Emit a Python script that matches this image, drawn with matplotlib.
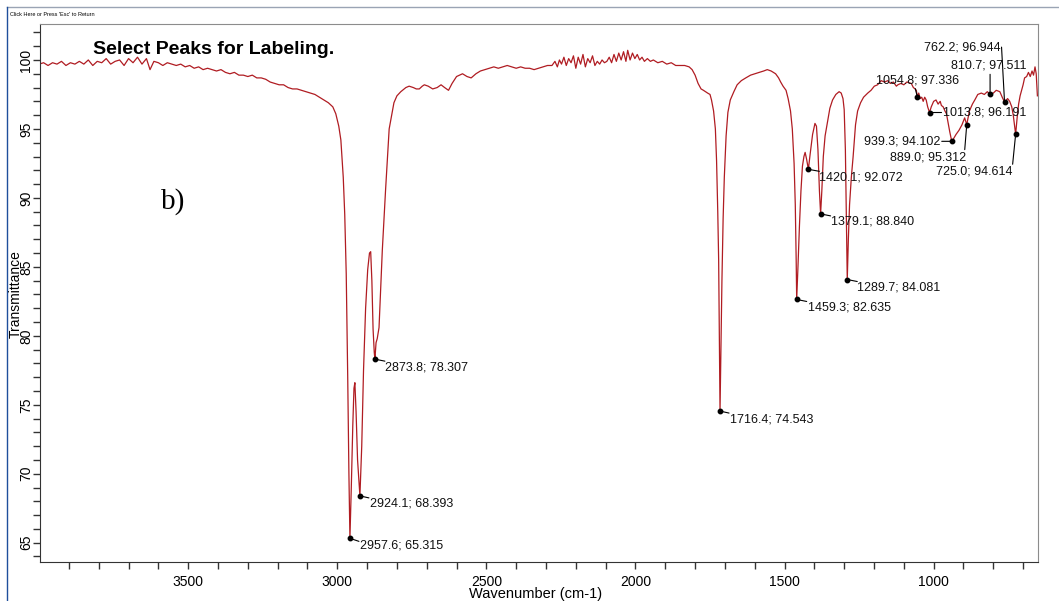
import numpy as np
import matplotlib.pyplot as plt
from matplotlib.lines import Line2D
from matplotlib.ticker import MultipleLocator

plt.rcParams['font.family'] = ['Liberation Sans', 'DejaVu Sans']

# spectrum (wavenumber cm-1, transmittance %)
wavenumber = [
    4000, 3985, 3970, 3955, 3940, 3925, 3910, 3895, 3880, 3865, 3850, 3835, 3820, 3805, 3790,
    3775, 3760, 3745, 3730, 3715, 3700, 3685, 3670, 3655, 3640, 3628, 3615, 3600, 3585, 3570,
    3555, 3540, 3525, 3510, 3495, 3480, 3465, 3450, 3435, 3420, 3405, 3390, 3375, 3360, 3345,
    3330, 3315, 3300, 3285, 3270, 3255, 3240, 3225, 3210, 3195, 3180, 3165, 3150, 3135, 3120,
    3105, 3090, 3075, 3060, 3045, 3030, 3015, 3005, 2995, 2988, 2980, 2975, 2970, 2965, 2961,
    2957.6, 2953, 2948, 2944, 2941, 2937, 2932, 2924.1, 2918, 2912, 2905, 2898, 2892, 2888,
    2884, 2880, 2876, 2873.8, 2870, 2866, 2860, 2849, 2838, 2826, 2810, 2800, 2787, 2770,
    2759, 2745, 2735, 2725, 2715, 2708, 2695, 2680, 2665, 2652, 2640, 2627, 2615, 2600, 2580,
    2565, 2551, 2535, 2520, 2505, 2490, 2475, 2460, 2445, 2430, 2415, 2400, 2385, 2370, 2355,
    2340, 2325, 2310, 2295, 2280, 2270, 2262, 2255, 2248, 2240, 2232, 2224, 2216, 2208, 2200,
    2192, 2184, 2176, 2168, 2160, 2152, 2144, 2136, 2128, 2120, 2112, 2104, 2096, 2088, 2080,
    2072, 2064, 2056, 2048, 2040, 2032, 2026, 2018, 2010, 2002, 1994, 1986, 1978, 1970, 1960,
    1950, 1940, 1925, 1910, 1895, 1880, 1865, 1850, 1835, 1820, 1810, 1800, 1790, 1780, 1772,
    1765, 1758, 1750, 1745, 1738, 1732, 1728, 1724, 1721, 1719, 1716.4, 1713, 1710, 1706, 1702,
    1696, 1690, 1682, 1670, 1659, 1645, 1630, 1614, 1600, 1585, 1570, 1558, 1545, 1530, 1520,
    1513, 1505, 1495, 1488, 1480, 1474, 1468, 1464, 1461, 1459.3, 1455, 1450, 1445, 1440, 1435,
    1431, 1426, 1420.1, 1414, 1406, 1398, 1393, 1388, 1383, 1379.1, 1375, 1370, 1364, 1356, 1348,
    1339, 1328, 1317, 1310, 1304, 1300, 1296, 1293, 1289.7, 1286, 1282, 1276, 1270, 1262, 1255,
    1245, 1235, 1221, 1210, 1199, 1188, 1176, 1165, 1154, 1145, 1135, 1125, 1120, 1110, 1100,
    1090, 1075, 1068, 1062, 1058, 1054.8, 1050, 1045, 1040, 1035, 1030, 1025, 1020, 1013.8, 1008,
    1000, 992, 985, 978, 974, 968, 962, 957, 952, 946, 939.3, 933, 925, 915, 905,
    896, 889.0, 880, 870, 862, 852, 840, 830, 820, 810.7, 800, 790, 778, 770, 762.2,
    752, 745, 738, 733, 729, 725.0, 720, 715, 710, 705, 700, 695, 688, 682, 676,
    670, 665, 660, 656, 652,
]
transmittance = [
    99.7, 99.8, 99.6, 99.8, 99.7, 99.9, 99.6, 99.8, 99.7, 99.9, 99.7, 100.0, 99.6, 99.9, 99.8,
    100.1, 99.7, 99.9, 100.0, 99.6, 100.1, 99.8, 100.2, 99.7, 100.1, 99.3, 99.9, 99.8, 99.6, 99.8,
    99.7, 99.6, 99.7, 99.5, 99.6, 99.4, 99.5, 99.3, 99.4, 99.3, 99.2, 99.3, 99.1, 99.0, 99.1,
    98.9, 98.9, 98.8, 98.9, 98.7, 98.7, 98.6, 98.4, 98.3, 98.2, 98.2, 98.0, 97.9, 97.9, 97.8,
    97.7, 97.6, 97.5, 97.3, 97.1, 96.9, 96.6, 96.1, 95.2, 94.2, 91.5, 88.8, 84.5, 77.0, 70.0,
    65.315, 69.0, 73.5, 76.2, 76.6, 74.5, 71.0, 68.393, 72.0, 77.5, 82.0, 84.8, 86.0, 86.1,
    84.0, 80.5, 78.8, 78.307, 79.5, 79.8, 80.6, 86.2, 90.6, 95.0, 96.9, 97.4, 97.7, 98.0,
    98.1, 98.0, 97.9, 97.9, 98.1, 98.2, 98.1, 97.9, 98.0, 98.2, 98.0, 97.8, 98.3, 98.8, 99.0,
    98.8, 98.7, 99.0, 99.2, 99.3, 99.4, 99.5, 99.4, 99.5, 99.6, 99.5, 99.4, 99.5, 99.4, 99.4,
    99.3, 99.4, 99.5, 99.6, 99.6, 99.9, 99.5, 100.0, 99.7, 100.2, 99.6, 100.1, 99.8, 100.3, 99.4,
    100.2, 99.7, 100.4, 99.5, 100.1, 99.8, 100.3, 99.6, 99.9, 99.7, 100.0, 99.8, 99.9, 100.2, 99.8,
    100.4, 99.9, 100.5, 100.0, 100.6, 99.9, 100.7, 100.0, 100.5, 100.1, 100.4, 100.0, 100.2, 99.9, 100.1,
    99.9, 100.0, 99.8, 99.9, 99.7, 99.8, 99.6, 99.6, 99.6, 99.5, 99.3, 98.9, 98.3, 97.9, 97.8,
    97.7, 97.6, 97.5, 97.1, 96.3, 95.0, 92.7, 89.0, 85.5, 80.5, 74.543, 79.5, 84.0, 88.5, 91.5,
    94.5, 96.2, 97.1, 97.7, 98.2, 98.5, 98.7, 98.9, 99.0, 99.1, 99.2, 99.3, 99.2, 99.0, 98.7,
    98.4, 98.1, 97.8, 97.2, 96.3, 95.0, 92.5, 89.5, 85.5, 82.635, 85.0, 88.0, 90.5, 92.3, 93.0,
    93.3, 92.8, 92.072, 93.2, 94.6, 95.4, 95.2, 93.5, 90.5, 88.84, 90.5, 93.0, 94.5, 95.5, 96.5,
    97.1, 97.5, 97.7, 97.6, 97.2, 96.4, 93.5, 89.0, 84.081, 87.0, 89.5, 91.5, 93.0, 95.3, 96.3,
    96.9, 97.3, 97.6, 97.8, 98.1, 98.2, 98.5, 98.4, 98.5, 98.3, 98.4, 98.1, 98.2, 98.3, 98.2,
    98.4, 98.3, 98.0, 97.9, 97.8, 97.336, 97.6, 97.2, 97.3, 97.0, 97.3, 97.1, 96.6, 96.191, 96.6,
    97.0, 97.1, 96.8, 97.0, 96.7, 96.6, 96.3, 96.1, 95.5, 94.8, 94.102, 94.3, 94.6, 94.9, 95.3,
    95.8, 95.312, 96.3, 96.8, 97.1, 97.5, 97.6, 97.5, 97.7, 97.511, 97.6, 97.8, 97.7, 97.3, 96.944,
    97.2, 97.0, 96.6, 96.0, 95.3, 94.614, 95.8, 96.8, 97.4, 97.8, 98.2, 98.7, 98.8, 99.1, 98.8,
    99.2, 98.9, 99.5, 99.0, 97.4,
]

# labelled peaks
peak_wn = [2957.6, 2924.1, 2873.8, 1716.4, 1459.3, 1420.1, 1379.1, 1289.7,
           1054.8, 1013.8, 939.3, 889.0, 810.7, 762.2, 725.0]
peak_t = [65.315, 68.393, 78.307, 74.543, 82.635, 92.072, 88.840, 84.081,
          97.336, 96.191, 94.102, 95.312, 97.511, 96.944, 94.614]

# label placement in pixels from the peak: leader end, text anchor, alignment
label_style = [
    ((9, -3), (10, -7), 'left'),
    ((9, -2), (10, -8), 'left'),
    ((10, -2), (10, -8), 'left'),
    ((9, -2), (10, -8), 'left'),
    ((10, -2), (11, -8), 'left'),
    ((11, -2), (11, -8), 'left'),
    ((10, -2), (10, -8), 'left'),
    ((10, -2), (10, -8), 'left'),
    ((-2, 8), (0, 16), 'center'),
    ((12, 0), (13, 0), 'left'),
    ((-10, 0), (-11, 0), 'right'),
    ((-2, -25), (-1, -33), 'right'),
    ((0, 20), (-1, 29), 'center'),
    ((-3, 55), (-4, 55), 'right'),
    ((-3, -30), (-3, -37), 'right'),
]

fig = plt.figure(figsize=(10.59, 6.01), dpi=100)
ax = fig.add_axes([40 / 1059, 39 / 601, 998 / 1059, 538.3 / 601])

ax.plot(wavenumber, transmittance, color='#b01c22', lw=0.9)

for wn, t, (lead, txt, ha) in zip(peak_wn, peak_t, label_style):
    ax.plot(wn, t, 'o', color='black', ms=3.2, zorder=5)
    ax.annotate('', xy=(wn, t), xytext=lead, textcoords='offset pixels',
                arrowprops=dict(arrowstyle='-', color='black', lw=0.8, shrinkA=0, shrinkB=0))
    ax.annotate(f'{wn:.1f}; {t:.3f}', xy=(wn, t), xytext=txt, textcoords='offset pixels',
                ha=ha, va='center', fontsize=9, color='#111111')

ax.set_xlim(3997, 650)
ax.set_ylim(63.6, 102.63)
ax.xaxis.set_major_locator(MultipleLocator(500))
ax.xaxis.set_minor_locator(MultipleLocator(100))
ax.yaxis.set_major_locator(MultipleLocator(5))
ax.yaxis.set_minor_locator(MultipleLocator(1))
ax.tick_params(axis='both', which='both', direction='out', length=5, width=1, colors='#333333',
               labelcolor='black', labelsize=10)
ax.tick_params(axis='x', which='major', pad=4)
ax.tick_params(axis='y', which='major', pad=0)
for lab in ax.get_yticklabels():
    lab.set_rotation(90)
    lab.set_va('center')

for side in ['top', 'right']:
    ax.spines[side].set_color('#8c8c8c')
for side in ['left', 'bottom']:
    ax.spines[side].set_color('#333333')

ax.text(53 / 998, 1 - 26 / 538.3, 'Select Peaks for Labeling.', transform=ax.transAxes,
        fontsize=14, fontweight='bold', ha='left', va='center')
ax.text(121 / 998, 1 - 178 / 538.3, 'b)', transform=ax.transAxes,
        fontsize=21, family='Liberation Serif', ha='left', va='center')

fig.text(16 / 1059, 1 - 294 / 601, 'Transmittance', rotation=90, ha='center', va='center', fontsize=10)
fig.text(536 / 1059, 1 - 594 / 601, 'Wavenumber (cm-1)', ha='center', va='center', fontsize=10.5)
fig.text(10 / 1059, 1 - 14 / 601, "Click Here or Press 'Esc' to Return", ha='left', va='center', fontsize=4)

# window frame
fig.add_artist(Line2D([7 / 1059, 1], [1 - 7 / 601, 1 - 7 / 601], transform=fig.transFigure,
                      color='#9aa4b4', lw=1))
fig.add_artist(Line2D([7 / 1059, 7 / 1059], [0, 1 - 7 / 601], transform=fig.transFigure,
                      color='#1f4f9c', lw=1))

fig.savefig('out.png', dpi=100)
